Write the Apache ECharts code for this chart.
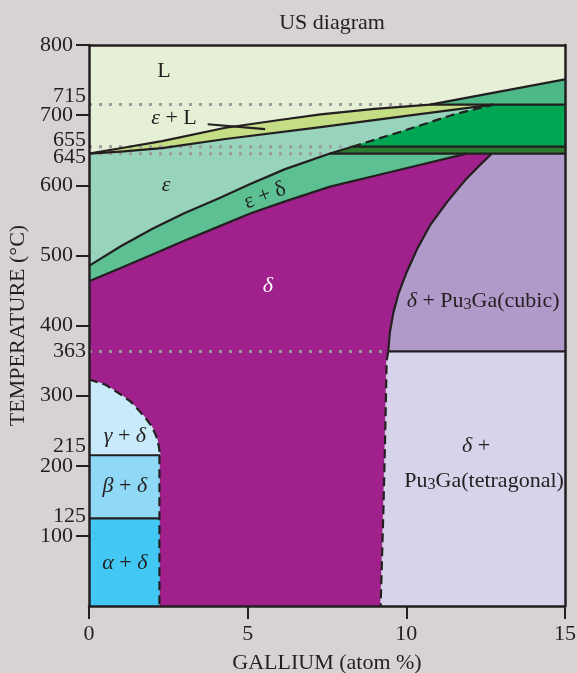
<!DOCTYPE html>
<html><head><meta charset="utf-8">
<script src="https://cdn.jsdelivr.net/npm/echarts@6/dist/echarts.min.js"></script>
<style>html,body{margin:0;padding:0;background:#d8d3d3;}#c{width:577px;height:673px;}</style>
</head><body><div id="c"></div>
<script>
// ---- axes ----
const xTicks = [0, 5, 10, 15];
const yTicks = [100, 200, 300, 400, 500, 600, 700, 800];
const yMarks = [715, 655, 645, 363, 215, 125];

// ---- phase boundaries [Ga atom %, °C] ----
const liquidus = [[0,645],[0.9,652],[2.3,663],[4.3,682],[6,693],[7.3,701],[9,709],[10.75,715],[15,751]];
const solidus = [[0,645],[1,648],[2.3,653],[4.3,666],[7.3,683],[10,699],[12.74,715]];
const epsSolvus = [[8.3,655],[9.8,676],[11.5,701],[12.74,715]];
const epsDeltaTop = [[0,485],[1,513],[2,538],[3,560],[4.08,581],[5.1,602],[6.18,623],[7.57,645],[8.3,655]];
const epsDeltaBottom = [[0,463],[1,482],[1.98,501],[3,521],[4.08,541],[5.1,560],[6.18,577],[7.6,598],[9.7,621],[11.9,645]];
const cubicBoundary = [[12.69,645],[12.3,628],[11.85,607],[11.3,577],[10.75,543],[10.35,510],[10.01,476],[9.75,445],[9.59,418],[9.48,390],[9.43,363]];
const tetraBoundary = [[9.43,363],[9.38,350],[9.33,237],[9.28,142],[9.19,0]];
const gammaArc = [[0,323],[0.5,316],[0.92,304],[1.3,292],[1.55,280],[1.8,267],[1.98,256],[2.12,242],[2.2,228],[2.24,215]];
const alphaBetaEdge = 2.22;
const leader = [[3.74,687],[5.55,680]];

// ---- region labels ----
const labels = [
  {t:'L', p:[2.36,763]},
  {t:'{i|ε} + L', p:[2.68,695]},
  {t:'{i|ε}', p:[2.43,600]},
  {t:'ε + δ', p:[5.55,585], r:21},
  {t:'{i|δ}', p:[5.64,456], white:true},
  {t:'{i|δ} + Pu{s|3}Ga(cubic)', p:[12.42,435]},
  {t:'{i|δ} +', p:[12.2,228]},
  {t:'Pu{s|3}Ga(tetragonal)', p:[12.45,178]},
  {t:'{i|γ} + {i|δ}', p:[1.13,242]},
  {t:'{i|β} + {i|δ}', p:[1.13,171]},
  {t:'{i|α} + {i|δ}', p:[1.13,61]}
];

const rev = a => a.slice().reverse();
const INK = '#231f20';
const FONT = 'Liberation Serif';
const FS = 22;

const regions = [
  {c:'#e6f0d6', pts:[[0,800],[15,800],...rev(liquidus)]},
  {c:'#4cb987', pts:[[15,715],...liquidus.filter(p=>p[0]>=10.75)]},
  {c:'#c5de86', pts:[...liquidus.filter(p=>p[0]<=10.75),...rev(solidus)]},
  {c:'#97d4bb', pts:[...solidus,...rev(epsSolvus),...rev(epsDeltaTop)]},
  {c:'#00a651', pts:[...epsSolvus,[15,715],[15,655]]},
  {c:'#2b7b30', pts:[[7.57,645],[8.3,655],[15,655],[15,645]]},
  {c:'#5cc092', pts:[...epsDeltaTop.filter(p=>p[1]<=645),...rev(epsDeltaBottom)]},
  {c:'#a0218b', pts:[...epsDeltaBottom,...cubicBoundary,...tetraBoundary,[alphaBetaEdge,0],[alphaBetaEdge,215],...rev(gammaArc)]},
  {c:'#b09ac9', pts:[...cubicBoundary,[15,363],[15,645]]},
  {c:'#d6d3ea', pts:[...tetraBoundary,[15,0],[15,363]]},
  {c:'#c8eaf9', pts:[...gammaArc,[0,215]]},
  {c:'#8fd8f6', pts:[[0,125],[alphaBetaEdge,125],[alphaBetaEdge,215],[0,215]]},
  {c:'#43c7f4', pts:[[0,0],[alphaBetaEdge,0],[alphaBetaEdge,125],[0,125]]}
];

const solid = [liquidus, solidus, [[10.75,715],[15,715]], [[8.3,655],[15,655]], [[7.57,645],[15,645]],
  epsDeltaTop, epsDeltaBottom, cubicBoundary, [[9.43,363],[15,363]], [[0,215],[2.24,215]], [[0,125],[alphaBetaEdge,125]], leader];
const dashed = [epsSolvus, tetraBoundary, gammaArc, [[alphaBetaEdge,215],[alphaBetaEdge,0]]];
const dotted = [[[0,715],[10.75,715]], [[0,655],[8.3,655]], [[0,645],[7.57,645]], [[0,363],[9.43,363]]];

const series = [];
regions.forEach(r => series.push({
  type:'custom', coordinateSystem:'cartesian2d', silent:true, z:1, clip:true,
  data:[r.pts[0]],
  renderItem:(params, api) => ({type:'polygon', shape:{points:r.pts.map(p=>api.coord(p))}, style:{fill:r.c, stroke:r.c, lineWidth:0.6}})
}));
const lineS = (d, style, z) => ({type:'line', data:d, symbol:'none', silent:true, z:z, clip:false, animation:false,
  lineStyle:Object.assign({color:INK, width:2.2, join:'round'}, style)});
dotted.forEach(d => series.push(lineS(d, {color:'#9c9c9c', width:3, type:[3,7]}, 3)));
solid.forEach(d => series.push(lineS(d, {}, 4)));
dashed.forEach(d => series.push(lineS(d, {type:[9,5]}, 4)));
series.push({
  type:'custom', coordinateSystem:'cartesian2d', silent:true, z:6,
  data: labels.map(l=>l.p),
  renderItem:(params, api) => {
    const l = labels[params.dataIndex];
    const pt = api.coord(l.p);
    const col = l.white ? '#ffffff' : INK;
    return {type:'text', x:pt[0], y:pt[1], rotation:(l.r||0)*Math.PI/180,
      style:{text:l.t, x:0, y:0, align:'center', verticalAlign:'middle', fill:col,
        fontFamily:FONT, fontSize:FS,
        rich:{i:{fontStyle:'italic', fontFamily:FONT, fontSize:FS, fill:col},
              s:{fontFamily:FONT, fontSize:16, padding:[8,0,0,0], fill:INK}}}};
  }
});

// vertical nudges (px) of the extra temperature labels, as in the original figure
const markShift = {715:-8, 655:-6, 645:4, 363:0, 215:-9, 125:-2};
const markRich = {};
yMarks.forEach(v => {
  const s = markShift[v];
  markRich['m'+v] = {fontFamily:FONT, fontSize:FS, color:INK,
    padding: s < 0 ? [0,0,-2*s,0] : [2*s,0,0,0]};
});

const chart = echarts.init(document.getElementById('c'), null, {renderer:'canvas'});
chart.setOption({
  animation:false,
  backgroundColor:'#d8d3d3',
  title:{text:'US diagram', left:327, top:7, textAlign:'center',
    textStyle:{fontFamily:FONT, fontSize:FS, fontWeight:'normal', color:INK}},
  grid:{left:89, right:12, top:45, bottom:67, outerBoundsMode:'none', containLabel:false},
  xAxis:[
    {type:'value', min:0, max:15, interval:5, position:'bottom', z:10,
     axisLine:{show:true, lineStyle:{color:INK, width:2.5}},
     axisTick:{show:true, length:13, lineStyle:{color:INK, width:2}},
     axisLabel:{fontFamily:FONT, fontSize:FS, color:INK, margin:17, customValues:xTicks},
     splitLine:{show:false},
     name:'GALLIUM (atom %)', nameLocation:'middle', nameGap:46,
     nameTextStyle:{fontFamily:FONT, fontSize:FS, color:INK}},
    {type:'value', min:0, max:15, position:'top', z:10,
     axisLine:{show:true, onZero:false, lineStyle:{color:INK, width:2.5}},
     axisTick:{show:false}, axisLabel:{show:false}, splitLine:{show:false}}
  ],
  yAxis:[
    {type:'value', min:0, max:800, interval:100, position:'left', z:10,
     axisLine:{show:true, onZero:false, lineStyle:{color:INK, width:2.5}},
     axisTick:{show:true, length:13, customValues:yTicks, lineStyle:{color:INK, width:2}},
     axisLabel:{fontFamily:FONT, fontSize:FS, color:INK, margin:16, customValues:yTicks},
     splitLine:{show:false},
     name:'TEMPERATURE (°C)', nameLocation:'middle', nameGap:54,
     nameTextStyle:{fontFamily:FONT, fontSize:FS, color:INK}},
    {type:'value', min:0, max:800, position:'left', offset:0, z:10,
     axisLine:{show:false}, axisTick:{show:false}, splitLine:{show:false},
     axisLabel:{fontFamily:FONT, fontSize:FS, color:INK, margin:3, customValues:yMarks,
       formatter: v => '{m'+v+'|'+v+'}', rich:markRich}},
    {type:'value', min:0, max:800, position:'right', z:10,
     axisLine:{show:true, onZero:false, lineStyle:{color:INK, width:2.5}},
     axisTick:{show:false}, axisLabel:{show:false}, splitLine:{show:false}}
  ],
  series: series
});
</script></body></html>
